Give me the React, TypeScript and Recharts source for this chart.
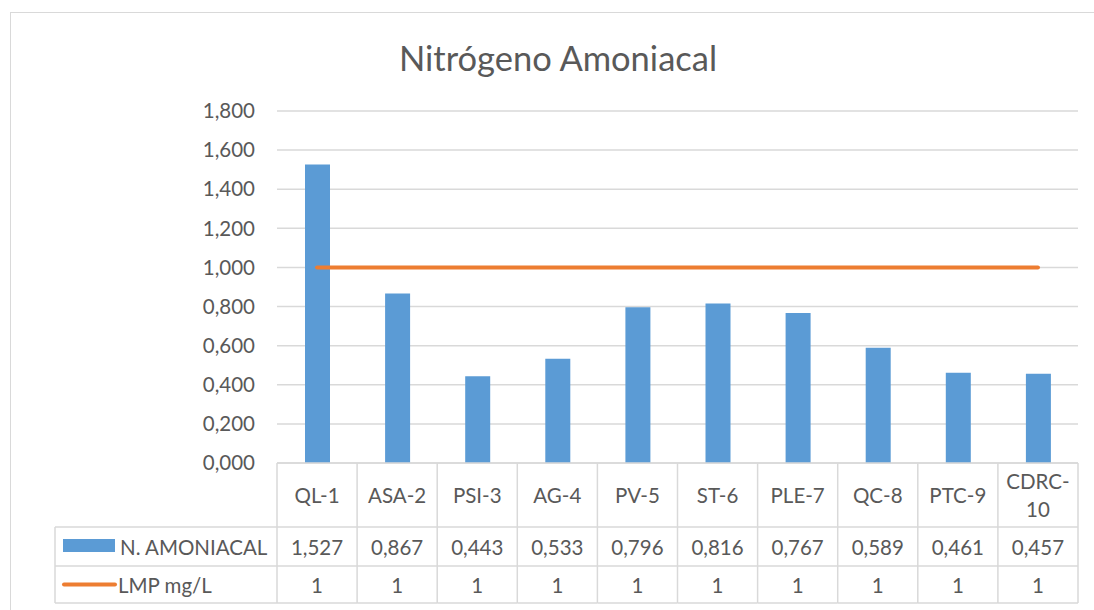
import React from "react";
import { ComposedChart, Bar, Line, XAxis, YAxis, CartesianGrid, Customized } from "recharts";

const categories = ["QL-1", "ASA-2", "PSI-3", "AG-4", "PV-5", "ST-6", "PLE-7", "QC-8", "PTC-9", "CDRC-10"];
const amoniacal = [1.527, 0.867, 0.443, 0.533, 0.796, 0.816, 0.767, 0.589, 0.461, 0.457];
const lmp = [1, 1, 1, 1, 1, 1, 1, 1, 1, 1];
const yTicks = [0, 0.2, 0.4, 0.6, 0.8, 1.0, 1.2, 1.4, 1.6, 1.8];
const seriesNames = ["N. AMONIACAL", "LMP mg/L"];

const data = categories.map((c, i) => ({ name: c, amoniacal: amoniacal[i], lmp: lmp[i] }));

const FONT = "Lato, 'Open Sans', sans-serif";
const TEXT = "#595959";
const GRID = "#d9d9d9";
const BLUE = "#5b9bd5";
const ORANGE = "#ed7d31";
const FS = 20.5;

const fmt3 = (v: number) => v.toFixed(3).replace(".", ",");
const fmtLmp = (v: number) => String(v).replace(".", ",");

const HEADER_H = 64;
const ROW_H = 39;
const ROW2_H = 37;
const LEGEND_W = 222;

function splitLabel(s: string): string[] {
  if (s.length > 6 && s.includes("-")) {
    const k = s.indexOf("-");
    return [s.slice(0, k + 1), s.slice(k + 1)];
  }
  return [s];
}

const TableTick = (props: any) => {
  const { x, y, payload, index, width } = props;
  const n = categories.length;
  const w = width / n;
  const left = x - w / 2;
  const right = x + w / 2;
  const r1 = y + HEADER_H;
  const r2 = r1 + ROW_H;
  const r3 = r2 + ROW2_H;
  const lines = splitLabel(String(payload.value));
  const i = index;
  return (
    <g fontFamily={FONT} fontSize={FS} fill={TEXT}>
      <line x1={left} x2={left} y1={y} y2={r3} stroke={GRID} strokeWidth={1.5} />
      {i === n - 1 && <line x1={right} x2={right} y1={y} y2={r3} stroke={GRID} strokeWidth={1.5} />}
      <line x1={left} x2={right} y1={r1} y2={r1} stroke={GRID} strokeWidth={1.5} />
      <line x1={left} x2={right} y1={r2} y2={r2} stroke={GRID} strokeWidth={1.5} />
      <line x1={left} x2={right} y1={r3} y2={r3} stroke={GRID} strokeWidth={1.5} />
      {lines.length === 1 ? (
        <text x={x} y={y + HEADER_H / 2} textAnchor="middle" dominantBaseline="central">{lines[0]}</text>
      ) : (
        lines.map((l, k) => (
          <text key={k} x={x} y={y + 18 + k * 28} textAnchor="middle" dominantBaseline="central">{l}</text>
        ))
      )}
      <text x={x} y={r1 + ROW_H / 2} textAnchor="middle" dominantBaseline="central">{fmt3(amoniacal[i])}</text>
      <text x={x} y={r2 + ROW2_H / 2} textAnchor="middle" dominantBaseline="central">{fmtLmp(lmp[i])}</text>
      {i === 0 && (
        <g>
          <line x1={left - LEGEND_W} x2={left} y1={r1} y2={r1} stroke={GRID} strokeWidth={1.5} />
          <line x1={left - LEGEND_W} x2={left} y1={r2} y2={r2} stroke={GRID} strokeWidth={1.5} />
          <line x1={left - LEGEND_W} x2={left} y1={r3} y2={r3} stroke={GRID} strokeWidth={1.5} />
          <line x1={left - LEGEND_W} x2={left - LEGEND_W} y1={r1} y2={r3} stroke={GRID} strokeWidth={1.5} />
          <rect x={left - LEGEND_W + 8} y={r1 + 12} width={52} height={13} fill={BLUE} />
          <text x={left - LEGEND_W + 65} y={r1 + ROW_H / 2} dominantBaseline="central">{seriesNames[0]}</text>
          <line x1={left - LEGEND_W + 9} x2={left - LEGEND_W + 60} y1={r2 + ROW2_H / 2} y2={r2 + ROW2_H / 2} stroke={ORANGE} strokeWidth={4} strokeLinecap="round" />
          <text x={left - LEGEND_W + 63} y={r2 + ROW2_H / 2} dominantBaseline="central">{seriesNames[1]}</text>
        </g>
      )}
    </g>
  );
};

const Title = () => (
  <text x={558} y={57} textAnchor="middle" dominantBaseline="central" fontFamily={FONT} fontSize={34.5} fill={TEXT}>
    Nitrógeno Amoniacal
  </text>
);

export default function App() {
  return (
    <div style={{ position: "absolute", left: 0, top: 0, width: 1094, height: 610, overflow: "hidden", background: "#fff" }}>
      <div style={{ position: "absolute", left: 10, top: 12, width: 1200, height: 700, border: "1.5px solid #d9d9d9", boxSizing: "border-box" }} />
      <div style={{ position: "absolute", left: 0, top: 0 }}>
        <ComposedChart width={1094} height={610} data={data} margin={{ top: 111, right: 16, bottom: 7, left: 207 }}>
          <CartesianGrid vertical={false} stroke={GRID} strokeWidth={1.5} />
          <XAxis
            dataKey="name"
            axisLine={{ stroke: GRID, strokeWidth: 1.5 }}
            tickLine={false}
            tickSize={0}
            tickMargin={0}
            height={140}
            interval={0}
            tick={<TableTick />}
          />
          <YAxis
            domain={[0, 1.8]}
            ticks={yTicks}
            width={70}
            axisLine={false}
            tickLine={false}
            tickMargin={16}
            tickFormatter={fmt3}
            tick={{ fill: TEXT, fontSize: FS, fontFamily: FONT }}
            interval={0}
          />
          <Bar dataKey="amoniacal" fill={BLUE} barSize={25} isAnimationActive={false} />
          <Line dataKey="lmp" stroke={ORANGE} strokeWidth={4} dot={false} strokeLinecap="round" isAnimationActive={false} />
          <Customized component={Title} />
        </ComposedChart>
      </div>
    </div>
  );
}
